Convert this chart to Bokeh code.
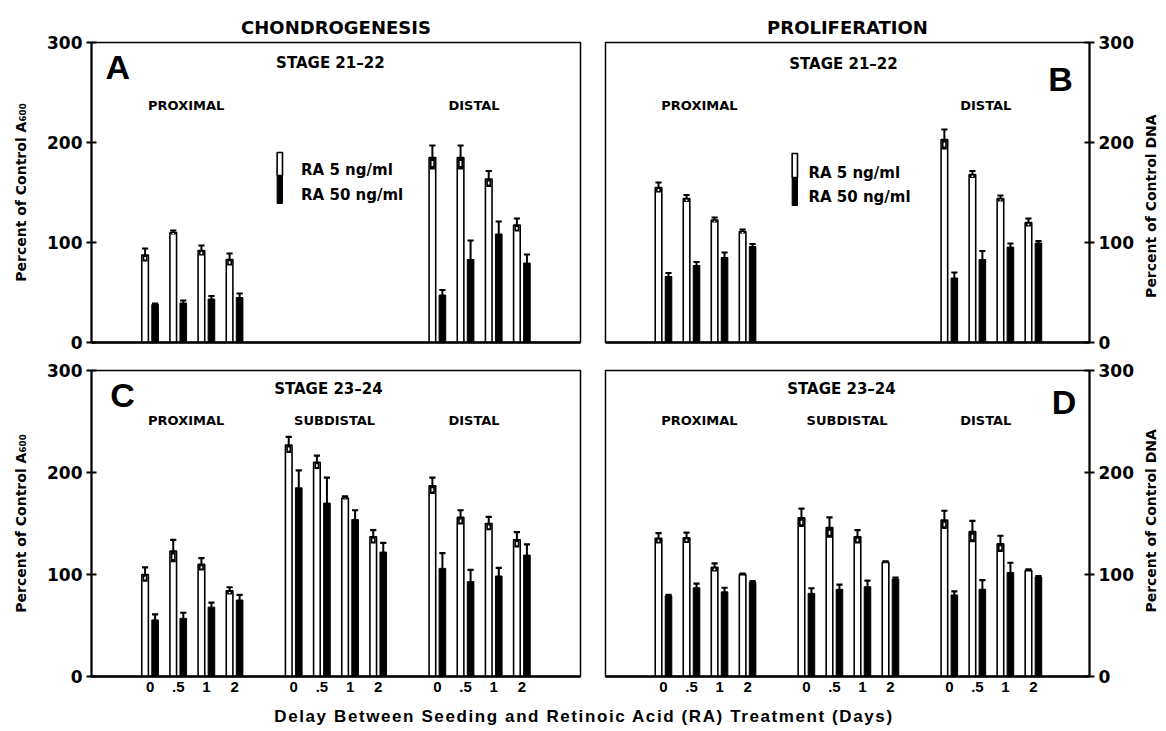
import math
from bokeh.plotting import figure
from bokeh.models import FixedTicker, Range1d, Label, Div, ColumnDataSource
from bokeh.layouts import row, column
from bokeh.embed import file_html
from bokeh.resources import INLINE

# ---------------------------------------------------------------- data
GROUPS = ["PROXIMAL", "SUBDISTAL", "DISTAL"]
DAYS = ["0", ".5", "1", "2"]            # delay between seeding and RA treatment (days)
Y_TICKS = [0, 100, 200, 300]
SERIES = ["RA 5 ng/ml", "RA 50 ng/ml"]

# A: chondrogenesis, stage 21-22 (percent of control A600), mean and SEM
A_RA5 = {"PROXIMAL": [87.5, 110, 92, 83], "DISTAL": [185, 185, 163.5, 117.5]}
A_RA5_SEM = {"PROXIMAL": [6.5, 2, 5, 6], "DISTAL": [12, 12, 8, 6.5]}
A_RA50 = {"PROXIMAL": [38, 39.5, 43.5, 45], "DISTAL": [47.5, 83, 108.5, 79.5]}
A_RA50_SEM = {"PROXIMAL": [1, 2.5, 3, 4], "DISTAL": [5, 19, 12.5, 8.5]}

# B: proliferation, stage 21-22 (percent of control DNA)
B_RA5 = {"PROXIMAL": [155, 144, 122.5, 111], "DISTAL": [203, 168, 144, 120]}
B_RA5_SEM = {"PROXIMAL": [5, 3.5, 2.5, 2], "DISTAL": [10, 3.5, 3, 4]}
B_RA50 = {"PROXIMAL": [66, 77, 85, 96], "DISTAL": [64.5, 83, 95.5, 99.5]}
B_RA50_SEM = {"PROXIMAL": [3.5, 3.5, 5, 2.5], "DISTAL": [5.5, 8.5, 3.5, 2]}

# C: chondrogenesis, stage 23-24
C_RA5 = {"PROXIMAL": [100, 123, 110, 84], "SUBDISTAL": [227, 210, 175, 137],
         "DISTAL": [187, 156, 150, 134]}
C_RA5_SEM = {"PROXIMAL": [7, 11, 6, 3.5], "SUBDISTAL": [8, 6.5, 1.5, 6.5],
             "DISTAL": [8, 7, 6.5, 7.5]}
C_RA50 = {"PROXIMAL": [55.5, 57, 68, 75], "SUBDISTAL": [185, 170, 154, 122],
          "DISTAL": [106, 93, 98.5, 119]}
C_RA50_SEM = {"PROXIMAL": [5.5, 5.5, 4.5, 5], "SUBDISTAL": [17, 25, 9, 9],
              "DISTAL": [15, 11.5, 8, 10.5]}

# D: proliferation, stage 23-24
D_RA5 = {"PROXIMAL": [135.5, 136, 107, 100], "SUBDISTAL": [155.5, 146, 137, 112],
         "DISTAL": [153.5, 142, 130, 104]}
D_RA5_SEM = {"PROXIMAL": [5, 5, 4, 1], "SUBDISTAL": [9, 10, 6.5, 1],
             "DISTAL": [9, 10.5, 8, 1]}
D_RA50 = {"PROXIMAL": [79, 87, 83, 92.5], "SUBDISTAL": [81.5, 85.5, 88, 95.5],
          "DISTAL": [80, 85.5, 102, 97.5]}
D_RA50_SEM = {"PROXIMAL": [1, 4, 4, 1], "SUBDISTAL": [5, 4.5, 6, 1.5],
              "DISTAL": [3.5, 9, 9.5, 1]}

# ---------------------------------------------------------------- layout constants
GROUP_POS = [0.0, 5.1, 10.2]     # x of first pair in each region group
BAR_W = 0.235
DODGE = 0.178
CAP = 0.11
LABEL_X = {"PROXIMAL": 1.28, "SUBDISTAL": 6.55, "DISTAL": 11.5}
BOLD = "DejaVu Sans"
SANS = "Liberation Sans"


def pair_x(group, d):
    return GROUP_POS[GROUPS.index(group)] + d


def draw_bars(p, ra5, ra5_sem, ra50, ra50_sem):
    xw, vw, ew, xb, vb, eb = [], [], [], [], [], []
    for g in ra5:
        for d in range(len(DAYS)):
            c = pair_x(g, d)
            xw.append(c - DODGE); vw.append(ra5[g][d]); ew.append(ra5_sem[g][d])
            xb.append(c + DODGE); vb.append(ra50[g][d]); eb.append(ra50_sem[g][d])

    def src(xs, vs, es):
        return ColumnDataSource(dict(
            x=xs, top=vs, up=[v + e for v, e in zip(vs, es)],
            low=[v - e for v, e in zip(vs, es)],
            m1=[v - e * 0.3 for v, e in zip(vs, es)],
            m2=[v - e * 0.7 for v, e in zip(vs, es)],
            cl=[x - CAP for x in xs], cr=[x + CAP for x in xs]))

    sw = src(xw, vw, ew)
    sb = src(xb, vb, eb)
    # RA 5 ng/ml: open bars
    p.vbar(x="x", top="top", bottom=0, width=BAR_W, source=sw,
           fill_color="white", line_color="black", line_width=1.6)
    # lower half of SEM shown as a dark block inside the open bar
    p.vbar(x="x", top="top", bottom="low", width=BAR_W * 0.75, source=sw,
           fill_color="black", line_color=None)
    p.vbar(x="x", top="m1", bottom="m2", width=BAR_W * 0.25, source=sw,
           fill_color="white", line_color=None)
    # RA 50 ng/ml: solid bars
    p.vbar(x="x", top="top", bottom=0, width=BAR_W, source=sb,
           fill_color="black", line_color="black", line_width=1)
    for s in (sw, sb):
        p.segment(x0="x", y0="top", x1="x", y1="up", source=s,
                  line_color="black", line_width=2)
        p.segment(x0="cl", y0="up", x1="cr", y1="up", source=s,
                  line_color="black", line_width=2.2)


def style(p, side, show_xlabels, ylab):
    p.xgrid.visible = False
    p.ygrid.visible = False
    p.outline_line_color = "black"
    p.outline_line_width = 1.5
    p.outline_line_alpha = 1
    ya = p.yaxis[0]
    ya.ticker = FixedTicker(ticks=Y_TICKS)
    ya.major_label_text_font = BOLD
    ya.major_label_text_font_style = "bold"
    ya.major_label_text_font_size = "17px"
    ya.major_label_text_color = "black"
    ya.major_tick_in = 5
    ya.major_tick_out = 5
    ya.major_tick_line_width = 2
    ya.major_tick_line_color = "black"
    ya.minor_tick_line_color = None
    ya.axis_line_width = 2
    ya.axis_line_color = "black"
    ya.major_label_standoff = 4
    if ylab:
        ya.axis_label = ylab
        ya.axis_label_text_font = BOLD
        ya.axis_label_text_font_style = "bold"
        ya.axis_label_text_font_size = "14px"
        ya.axis_label_text_color = "black"
        ya.axis_label_standoff = 15
    xa = p.xaxis[0]
    xa.axis_line_width = 2.5
    xa.axis_line_color = "black"
    xa.major_tick_in = 0
    xa.major_tick_out = 0
    xa.minor_tick_line_color = None
    if show_xlabels:
        ticks = [GROUP_POS[g] + d for g in range(len(GROUPS)) for d in range(len(DAYS))]
        xa.ticker = FixedTicker(ticks=ticks)
        xa.major_label_overrides = {t: DAYS[i % len(DAYS)] for i, t in enumerate(ticks)}
        xa.major_label_text_font = SANS
        xa.major_label_text_font_style = "bold"
        xa.major_label_text_font_size = "15px"
        xa.major_label_text_color = "black"
        xa.major_label_standoff = 5
    else:
        xa.ticker = FixedTicker(ticks=[])
        xa.major_label_text_font_size = "0px"
        xa.major_label_standoff = 0


def txt(p, x, y, text, size, align="center", font=BOLD, angle=0.0):
    p.add_layout(Label(x=x, y=y, text=text, text_font=font, text_font_style="bold",
                       text_font_size=size, text_align=align, text_baseline="middle",
                       text_color="black", angle=angle))


def legend(p, x0, ytop, ymid, ybot, tx, ty1, ty2):
    p.quad(left=[x0], right=[x0 + 0.19], bottom=[ymid], top=[ytop],
           fill_color="white", line_color="black", line_width=1.6)
    p.quad(left=[x0], right=[x0 + 0.19], bottom=[ybot], top=[ymid],
           fill_color="black", line_color="black", line_width=1)
    txt(p, tx, ty1, SERIES[0], "15px", "left")
    txt(p, tx, ty2, SERIES[1], "15px", "left")


def make_fig(width, height, xr, side, title, top, bottom, border_l, border_r):
    p = figure(width=width, height=height, x_range=Range1d(*xr), y_range=Range1d(0, 300),
               output_backend="svg", toolbar_location=None, y_axis_location=side,
               min_border_left=border_l, min_border_right=border_r,
               min_border_top=top, min_border_bottom=bottom,
               title=title)
    if title:
        p.title.align = "center"
        p.title.text_font = BOLD
        p.title.text_font_style = "bold"
        p.title.text_font_size = "18px"
        p.title.text_color = "black"
        p.title.standoff = 9
    return p


def side_title(height, y_from_top, text):
    """Narrow strip holding the right-hand axis title (reads bottom to top)."""
    s = figure(width=22, height=height, x_range=Range1d(0, 22), y_range=Range1d(0, height),
               output_backend="svg", toolbar_location=None, min_border=0)
    s.xaxis.visible = False
    s.yaxis.visible = False
    s.xgrid.visible = False
    s.ygrid.visible = False
    s.outline_line_color = None
    txt(s, 14, height - y_from_top, text, "14px", "center", BOLD, math.pi / 2)
    return s


XR_L = (-2.08, 15.28)
XR_R = (-2.07, 15.20)
YLAB_L = "Percent of Control A\u2086\u2080\u2080"
YLAB_R = "Percent of Control DNA"

# ---- A
pa = make_fig(592, 352, XR_L, "left", "CHONDROGENESIS", 42, 10, 91, 12)
style(pa, "left", False, YLAB_L)
draw_bars(pa, A_RA5, A_RA5_SEM, A_RA50, A_RA50_SEM)
txt(pa, -1.58, 275.5, "A", "34px", "left", SANS)
txt(pa, 6.40, 280, "STAGE 21\u201322", "15px")
for g in A_RA5:
    txt(pa, LABEL_X[g], 237, g, "13px")
legend(pa, 4.51, 190, 167, 139, 5.36, 173, 148)

# ---- B
pb = make_fig(544, 352, XR_R, "right", "PROLIFERATION", 42, 10, 13, 47)
style(pb, "right", False, None)
draw_bars(pb, B_RA5, B_RA5_SEM, B_RA50, B_RA50_SEM)
txt(pb, 14.6, 264, "B", "34px", "right", SANS)
txt(pb, 6.42, 279, "STAGE 21\u201322", "15px")
for g in B_RA5:
    txt(pb, LABEL_X[g], 237, g, "13px")
legend(pb, 4.59, 189, 165, 137, 5.17, 170, 146)
sb_title = side_title(352, 192, YLAB_R)

# ---- C
pc = make_fig(592, 348, XR_L, "left", None, 18, 24, 91, 12)
style(pc, "left", True, YLAB_L)
draw_bars(pc, C_RA5, C_RA5_SEM, C_RA50, C_RA50_SEM)
txt(pc, -1.41, 276, "C", "34px", "left", SANS)
txt(pc, 6.33, 282, "STAGE 23\u201324", "15px")
for g in C_RA5:
    txt(pc, LABEL_X[g], 251, g, "13px")

# ---- D
pd = make_fig(544, 348, XR_R, "right", None, 18, 24, 13, 47)
style(pd, "right", True, None)
draw_bars(pd, D_RA5, D_RA5_SEM, D_RA50, D_RA50_SEM)
txt(pd, 14.73, 269.5, "D", "34px", "right", SANS)
txt(pd, 6.35, 282, "STAGE 23\u201324", "15px")
for g in D_RA5:
    txt(pd, LABEL_X[g], 251, g, "13px")
sd_title = side_title(348, 171, YLAB_R)

xtitle = Div(
    text=('<div style="width:1158px;text-align:center;font-family:\'Liberation Sans\';'
          'font-weight:bold;font-size:17px;letter-spacing:1.6px;line-height:18px;'
          'padding-top:3px;color:black;">'
          'Delay Between Seeding and Retinoic Acid (RA) Treatment (Days)</div>'),
    width=1158, height=23)

layout = column(row(pa, pb, sb_title, spacing=0), row(pc, pd, sd_title, spacing=0),
                xtitle, spacing=0)

open("out.html", "w").write(file_html(layout, INLINE))
